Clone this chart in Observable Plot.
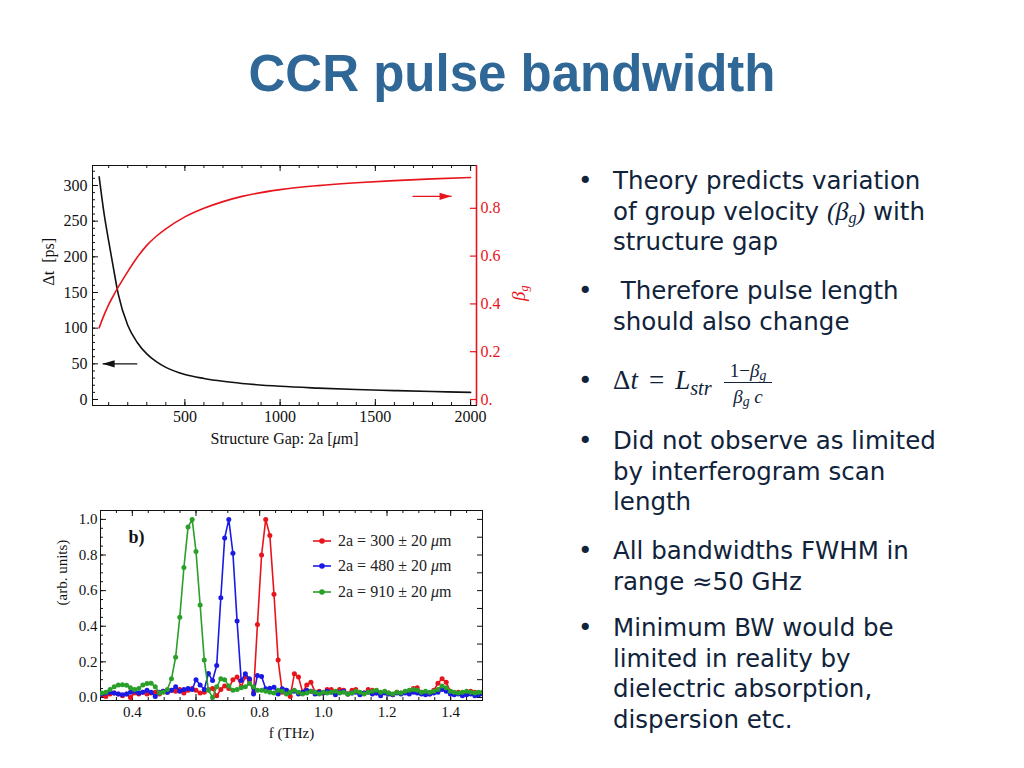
<!DOCTYPE html>
<html>
<head>
<meta charset="utf-8">
<script src="https://cdn.jsdelivr.net/npm/d3@7"></script>
<script src="https://cdn.jsdelivr.net/npm/@observablehq/plot@0.6"></script>
<style>
html, body { margin:0; padding:0; background:#fff; }
#slide { position:relative; width:1024px; height:768px; overflow:hidden; background:#fff; }
#title { position:absolute; left:0; top:49px; width:1024px; text-align:center; font:bold 51px/50px "Liberation Sans", Arial, sans-serif; color:#2f6796; margin:0; }
#topChart { position:absolute; left:0; top:150px; }
#botChart { position:absolute; left:0; top:495px; }
.bul { position:absolute; left:578px; width:440px; height:30px; font-family:"DejaVu Sans", sans-serif; font-size:24.5px; line-height:30.5px; color:#10233a; }
.bul .dot { position:absolute; left:0; top:0; }
.bul .txt { position:absolute; left:35px; top:0; white-space:nowrap; }
.m { font-family:"Liberation Serif", serif; font-style:italic; font-size:26px; }
.m sub { font-size:0.62em; vertical-align:-0.2em; line-height:0; }
#fLeft { position:absolute; left:613px; top:367px; font:27px/27px "Liberation Serif", serif; color:#10233a; white-space:nowrap; }
#fLeft .eq { margin:0 11px; }
#fLeft sub { font-size:0.75em; vertical-align:-0.3em; line-height:0; }
.fr { position:absolute; left:724px; width:48px; text-align:center; font:19px/21px "Liberation Serif", serif; color:#10233a; white-space:nowrap; }
.fr sub { font-size:0.72em; vertical-align:-0.25em; line-height:0; }
#fbar { position:absolute; left:724px; top:382px; width:48px; height:1px; background:#10233a; }
#legend { position:absolute; left:311px; top:530px; font:16px "Liberation Serif", serif; color:#222; }
#legend .row { position:absolute; left:0; height:20px; white-space:nowrap; }
#legend .row .lab { position:absolute; left:27px; top:0; line-height:20px; }
#legend .row svg { position:absolute; left:0; top:0; }
</style>
</head>
<body>
<div id="slide">
  <div id="title">CCR pulse bandwidth</div>
  <div id="topChart"></div>
  <div id="botChart"></div>
  <div id="legend"></div>

  <div class="bul" style="top:166px"><span class="dot">•</span><div class="txt">Theory predicts variation<br>of group velocity <span class="m">(β<sub>g</sub>)</span> with<br>structure gap</div></div>
  <div class="bul" style="top:276px"><span class="dot">•</span><div class="txt">&nbsp;Therefore pulse length<br>should also change</div></div>
  <div class="bul" style="top:366px"><span class="dot">•</span></div>
  <div id="fLeft">Δ<i>t</i><span class="eq">=</span><i>L</i><sub><i>str</i></sub></div>
  <div class="fr" style="top:360px">1−<i>β</i><sub><i>g</i></sub></div>
  <div id="fbar"></div>
  <div class="fr" style="top:386px"><i>β</i><sub><i>g</i></sub> <i>c</i></div>
  <div class="bul" style="top:426px"><span class="dot">•</span><div class="txt">Did not observe as limited<br>by interferogram scan<br>length</div></div>
  <div class="bul" style="top:536px"><span class="dot">•</span><div class="txt">All bandwidths FWHM in<br>range ≈50 GHz</div></div>
  <div class="bul" style="top:613px"><span class="dot">•</span><div class="txt">Minimum BW would be<br>limited in reality by<br>dielectric absorption,<br>dispersion etc.</div></div>
</div>
<script>
// ---------- Data: top panel (structure gap vs Δt and β_g) ----------
const gapUm    = [50, 75, 100, 125, 150, 200, 250, 300, 350, 400, 500, 600, 700, 800, 1000, 1200, 1400, 1600, 1800, 2000];
const deltaTps = [312, 262, 222, 184, 148, 104, 80, 64, 53, 45, 35, 29.5, 25.5, 22.5, 18.5, 16, 14, 12.5, 11.2, 10];
const betaG    = [0.30, 0.352, 0.397, 0.435, 0.47, 0.535, 0.595, 0.645, 0.683, 0.714, 0.764, 0.80, 0.828, 0.85, 0.878, 0.895, 0.907, 0.916, 0.923, 0.929];
const dtTicks   = [0, 50, 100, 150, 200, 250, 300];
const betaTicks = [0, 0.2, 0.4, 0.6, 0.8];
const gapTicks  = [500, 1000, 1500, 2000];
const arrowBlack = {tail: 250, tip: 68, dt: 50};
const arrowRed   = {tail: 1695, tip: 1900, beta: 0.85};

// ---------- Data: bottom panel (spectra) ----------
const freqTHz = [0.304,0.317,0.330,0.343,0.356,0.369,0.382,0.394,0.407,0.420,0.433,0.446,0.459,0.472,0.485,0.497,0.510,0.523,0.536,0.549,
0.562,0.575,0.588,0.600,0.613,0.626,0.639,0.652,0.665,0.678,0.690,0.703,0.716,0.729,0.742,0.755,0.768,0.781,0.793,0.806,
0.819,0.832,0.845,0.858,0.871,0.884,0.896,0.909,0.922,0.935,0.948,0.961,0.974,0.987,0.999,1.012,1.025,1.038,1.051,1.064,
1.077,1.090,1.102,1.115,1.128,1.141,1.154,1.167,1.180,1.193,1.205,1.218,1.231,1.244,1.257,1.270,1.283,1.295,1.308,1.321,
1.334,1.347,1.360,1.373,1.386,1.399,1.411,1.424,1.437,1.450,1.463,1.476,1.488,1.501];
const spec300 = [0.015,0.005,0.02,0.025,0.02,0.01,0.02,0.0,0.025,0.02,0.03,0.02,0.025,0.03,0.02,0.035,0.03,0.04,0.035,0.045,
0.025,0.04,0.05,0.04,0.025,0.03,0.045,0.05,0.01,0.045,0.065,0.05,0.1,0.115,0.06,0.115,0.095,0.03,0.41,0.80,
1.0,0.91,0.58,0.21,0.03,0.04,0.005,0.133,0.115,0.03,0.07,0.086,0.03,0.035,0.025,0.045,0.045,0.025,0.045,0.04,
0.02,0.04,0.045,0.02,0.025,0.045,0.04,0.025,0.02,0.03,0.025,0.015,0.03,0.025,0.03,0.035,0.05,0.055,0.03,0.025,
0.02,0.04,0.08,0.105,0.085,0.035,0.02,0.03,0.025,0.02,0.035,0.03,0.025,0.03];
const spec480 = [0.02,0.025,0.03,0.025,0.02,0.015,0.02,0.03,0.035,0.025,0.03,0.04,0.03,0.005,0.03,0.035,0.03,0.04,0.06,0.035,
0.045,0.05,0.045,0.1,0.07,0.045,0.135,0.095,0.18,0.56,0.895,1.0,0.81,0.43,0.095,0.133,0.105,0.02,0.124,0.118,
0.049,0.052,0.058,0.02,0.049,0.04,0.03,0.035,0.02,0.03,0.04,0.035,0.02,0.03,0.025,0.035,0.03,0.015,0.03,0.035,
0.02,0.025,0.03,0.015,0.025,0.03,0.02,0.025,0.01,0.025,0.02,0.015,0.025,0.02,0.025,0.02,0.03,0.025,0.02,0.015,
0.02,0.025,0.03,0.045,0.035,0.02,0.015,0.02,0.01,0.015,0.02,0.01,0.015,0.02];
const spec910 = [0.025,0.03,0.045,0.06,0.07,0.072,0.068,0.055,0.045,0.05,0.07,0.078,0.08,0.06,0.025,0.03,0.045,0.105,0.226,0.45,
0.73,0.957,1.0,0.82,0.52,0.21,0.04,0.0,0.06,0.105,0.10,0.065,0.04,0.045,0.055,0.06,0.078,0.06,0.04,0.04,
0.035,0.03,0.025,0.04,0.035,0.02,0.03,0.04,0.03,0.02,0.025,0.035,0.03,0.02,0.03,0.025,0.03,0.035,0.025,0.03,
0.02,0.025,0.035,0.03,0.02,0.03,0.035,0.04,0.03,0.035,0.025,0.02,0.03,0.025,0.035,0.04,0.045,0.04,0.03,0.035,
0.03,0.035,0.045,0.065,0.055,0.035,0.03,0.025,0.03,0.035,0.03,0.025,0.03,0.03];
const seriesLabels = ["2a = 300 ± 20 μm", "2a = 480 ± 20 μm", "2a = 910 ± 20 μm"];
const fTicks = [0.4, 0.6, 0.8, 1.0, 1.2, 1.4];
const ampTicks = [0.0, 0.2, 0.4, 0.6, 0.8, 1.0];

// ---------- Styles ----------
const RED = "#e8141c", BLUE = "#1a1ae6", GREEN = "#2a9f2a", INK = "#111";
const seriesColors = [RED, BLUE, GREEN];
const serif = "Liberation Serif, Times New Roman, serif";

// rich text (italic / subscript pieces): find Plot text elements by content
function richText(svg, content, parts) {
  d3.select(svg).selectAll("text").filter(function () { return this.textContent === content; }).each(function () {
    const t = d3.select(this);
    t.selectAll("*").remove();
    t.text(null);
    parts.forEach(p => {
      const ts = t.append("tspan").text(p.t);
      if (p.i) ts.attr("font-style", "italic");
      if (p.sub) ts.attr("dy", "0.3em").attr("font-size", p.sub);
    });
  });
}

// inward frame ticks (Mathematica style): tick marks spanning only `size` px from a frame side
function frameTicks(values, side, size, W, H, opts = {}) {
  if (side === "bottom") return Plot.tickX(values, {x: d => d, insetTop: H - size, ...opts});
  if (side === "top")    return Plot.tickX(values, {x: d => d, insetBottom: H - size, ...opts});
  if (side === "left")   return Plot.tickY(values, {y: d => d, insetRight: W - size, ...opts});
  return Plot.tickY(values, {y: d => d, insetLeft: W - size, ...opts});
}

// ---------- Top chart ----------
const K = 335; // secondary-axis mapping: β_g drawn in Δt units
const topX = [15, 2031], topY = [-8.4, 328];
const TW = 384, TH = 240; // frame size in px
const topRows = gapUm.map((g, i) => ({gap: g, dt: deltaTps[i], beta: betaG[i]}));
const head = { draw(ctx) { ctx.moveTo(0, 0); ctx.lineTo(-12, -3.6); ctx.lineTo(-12, 3.6); ctx.closePath(); } };
const minorGap = d3.range(100, 2001, 100);

const topPlot = Plot.plot({
  width: 540, height: 310,
  marginLeft: 92, marginRight: 64, marginTop: 15, marginBottom: 55,
  style: {fontFamily: serif, fontSize: "16px", color: INK, background: "transparent", overflow: "visible"},
  x: {domain: topX, label: null},
  y: {domain: topY, label: null},
  marks: [
    Plot.frame({stroke: INK}),
    Plot.ruleX([topX[1]], {stroke: RED, strokeWidth: 1.6}),
    frameTicks(minorGap, "bottom", 3, TW, TH, {stroke: INK}),
    frameTicks(gapTicks, "bottom", 6, TW, TH, {stroke: INK}),
    frameTicks(minorGap, "top", 3, TW, TH, {stroke: INK}),
    frameTicks(gapTicks, "top", 6, TW, TH, {stroke: INK}),
    Plot.axisX(gapTicks, {anchor: "bottom", tickSize: 0, tickPadding: 5, label: null, fontSize: 16, tickFormat: d3.format("d")}),
    frameTicks(d3.range(0, 321, 10), "left", 3, TW, TH, {stroke: INK}),
    frameTicks(dtTicks, "left", 6, TW, TH, {stroke: INK}),
    Plot.axisY(dtTicks, {anchor: "left", tickSize: 0, tickPadding: 5, label: null, fontSize: 16, tickFormat: d3.format("d")}),
    frameTicks(betaTicks.map(b => b * K), "right", 6, TW, TH, {stroke: RED, strokeWidth: 1.2}),
    Plot.axisY(betaTicks.map(b => b * K), {anchor: "right", tickSize: 0, tickPadding: 4, label: null, color: RED, fontSize: 16,
      tickFormat: d => { const b = d / K; return Math.abs(b) < 1e-9 ? "0." : b.toFixed(1); }}),
    Plot.line(topRows, {x: "gap", y: "dt", stroke: INK, strokeWidth: 1.6, curve: "monotone-x"}),
    Plot.line(topRows, {x: "gap", y: d => d.beta * K, stroke: RED, strokeWidth: 1.6, curve: "monotone-x"}),
    Plot.link([arrowBlack], {x1: "tail", x2: "tip", y1: "dt", y2: "dt", stroke: INK, strokeWidth: 1.4}),
    Plot.dot([arrowBlack], {x: "tip", y: "dt", symbol: head, rotate: 180, fill: INK}),
    Plot.link([arrowRed], {x1: "tail", x2: "tip", y1: d => d.beta * K, y2: d => d.beta * K, stroke: RED, strokeWidth: 1.4}),
    Plot.dot([arrowRed], {x: "tip", y: d => d.beta * K, symbol: head, fill: RED}),
    Plot.text(["Δt\u00a0 [ps]"], {frameAnchor: "left", dx: -44, rotate: -90, fontSize: 16}),
    Plot.text(["Structure Gap: 2a [μm]"], {frameAnchor: "bottom", dy: 38, fontSize: 16}),
    Plot.text(["βg"], {frameAnchor: "right", dx: 42, rotate: -90, fill: RED, fontSize: 19})
  ]
});
richText(topPlot, "Structure Gap: 2a [μm]", [{t: "Structure Gap: 2a ["}, {t: "μ", i: true}, {t: "m]"}]);
richText(topPlot, "βg", [{t: "β", i: true}, {t: "g", i: true, sub: "12px"}]);
document.getElementById("topChart").append(topPlot);

// ---------- Bottom chart ----------
const BW = 382, BH = 190; // frame size in px
const spectra = [spec300, spec480, spec910];
const specRows = seriesLabels.map((s, k) => freqTHz.map((f, i) => ({f, v: spectra[k][i], s})));
const fmt1 = d3.format(".1f");
const minorF = d3.range(0.3, 1.501, 0.05).map(v => +v.toFixed(2));
const minorA = d3.range(0, 1.001, 0.05).map(v => +v.toFixed(2));
const rightA = d3.range(0, 1.001, 0.1).map(v => +v.toFixed(2));

const botPlot = Plot.plot({
  width: 500, height: 273,
  marginLeft: 100, marginRight: 18, marginTop: 15, marginBottom: 68,
  style: {fontFamily: serif, fontSize: "15px", color: INK, background: "transparent", overflow: "visible"},
  x: {domain: [0.3, 1.5], label: null},
  y: {domain: [-0.017, 1.05], label: null},
  marks: [
    Plot.frame({stroke: INK}),
    frameTicks(minorF, "bottom", 3, BW, BH, {stroke: INK}),
    frameTicks(fTicks, "bottom", 6, BW, BH, {stroke: INK}),
    frameTicks(minorF, "top", 3, BW, BH, {stroke: INK}),
    frameTicks(fTicks, "top", 6, BW, BH, {stroke: INK}),
    Plot.axisX(fTicks, {anchor: "bottom", tickSize: 0, tickPadding: 6, label: null, fontSize: 15, tickFormat: fmt1}),
    frameTicks(minorA, "left", 3, BW, BH, {stroke: INK}),
    frameTicks(ampTicks, "left", 6, BW, BH, {stroke: INK}),
    Plot.axisY(ampTicks, {anchor: "left", tickSize: 0, tickPadding: 3, label: null, fontSize: 15, tickFormat: fmt1}),
    frameTicks(rightA, "right", 5, BW, BH, {stroke: INK}),
    ...specRows.flatMap((rows, k) => [
      Plot.line(rows, {x: "f", y: "v", stroke: seriesColors[k], strokeWidth: 1.6, clip: true}),
      Plot.dot(rows, {x: "f", y: "v", fill: seriesColors[k], r: 2.5, clip: true})
    ]),
    Plot.text(["(arb. units)"], {frameAnchor: "left", dx: -38, rotate: -90, fontSize: 15}),
    Plot.text(["f (THz)"], {frameAnchor: "bottom", dy: 37, fontSize: 15}),
    Plot.text(["b)"], {frameAnchor: "top-left", dx: 28, dy: 20, fontSize: 18, fontWeight: "bold"})
  ]
});
document.getElementById("botChart").append(botPlot);

// legend (inside bottom panel)
const legend = d3.select("#legend");
seriesLabels.forEach((s, k) => {
  const row = legend.append("div").attr("class", "row").style("top", [1, 26, 52][k] + "px");
  const sv = row.append("svg").attr("width", 22).attr("height", 20);
  sv.append("line").attr("x1", 2).attr("x2", 20).attr("y1", 10).attr("y2", 10).attr("stroke", seriesColors[k]).attr("stroke-width", 1.6);
  sv.append("circle").attr("cx", 11).attr("cy", 10).attr("r", 2.8).attr("fill", seriesColors[k]);
  const parts = s.split("μ");
  const lab = row.append("div").attr("class", "lab");
  lab.append("span").text(parts[0]);
  lab.append("i").text("μ");
  lab.append("span").text(parts[1]);
});
</script>
</body>
</html>
